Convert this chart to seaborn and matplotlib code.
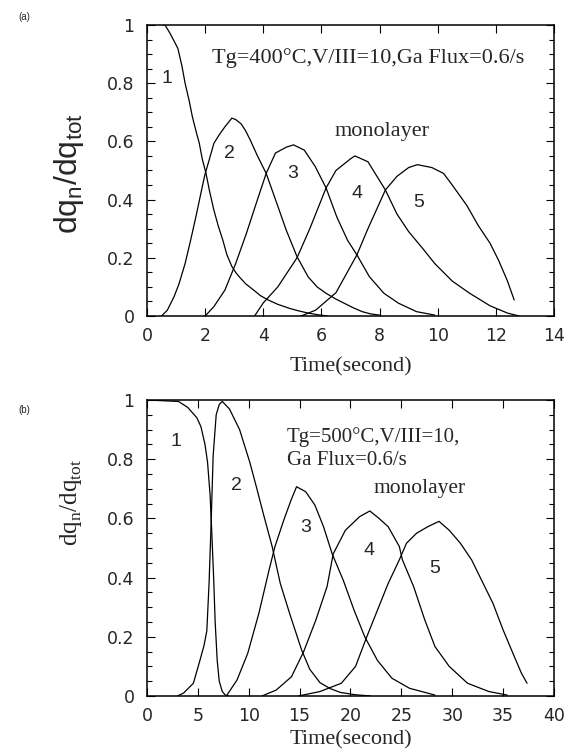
import matplotlib
matplotlib.use("Agg")
import matplotlib.pyplot as plt
import pandas as pd
import seaborn as sns
from matplotlib.ticker import MultipleLocator

# ---- panel (a): Tg = 400 C, time in seconds, dq_n/dq_tot per monolayer ----
A1_T = [0.55, 0.62, 0.8, 1.06, 1.2, 1.31, 1.45, 1.56, 1.7, 1.8, 1.9, 2.03, 2.15, 2.3, 2.45,
        2.61, 2.75, 2.92, 3.05, 3.17, 3.4, 3.67, 3.9, 4.17, 4.5, 4.91, 5.2, 5.54, 5.9, 6.2]
A1_Y = [1.0, 1.0, 0.97, 0.92, 0.86, 0.80, 0.74, 0.685, 0.63, 0.593, 0.54, 0.49, 0.43, 0.364, 0.31,
        0.26, 0.21, 0.17, 0.15, 0.135, 0.11, 0.089, 0.07, 0.055, 0.04, 0.026, 0.018, 0.01, 0.004, 0.0]
A2_T = [0.5, 0.7, 0.93, 1.1, 1.31, 1.5, 1.68, 1.85, 1.99, 2.15, 2.3, 2.5, 2.68, 2.8, 2.92, 3.05,
        3.24, 3.4, 3.55, 3.8, 4.1, 4.42, 4.79, 5.16, 5.54, 5.85, 6.16, 6.5, 6.78, 7.1, 7.4, 7.7, 8.0]
A2_Y = [0.0, 0.02, 0.066, 0.11, 0.18, 0.26, 0.34, 0.42, 0.485, 0.54, 0.593, 0.625, 0.65, 0.665, 0.68, 0.675,
        0.66, 0.635, 0.605, 0.55, 0.49, 0.40, 0.295, 0.204, 0.135, 0.10, 0.078, 0.058, 0.044, 0.028, 0.015, 0.007, 0.003]
A3_T = [2.0, 2.3, 2.68, 3.05, 3.42, 3.8, 4.1, 4.42, 4.79, 5.04, 5.41, 5.79, 6.16, 6.53, 6.9,
        7.22, 7.65, 8.15, 8.65, 9.27, 9.9]
A3_Y = [0.0, 0.032, 0.089, 0.18, 0.284, 0.40, 0.49, 0.56, 0.58, 0.588, 0.57, 0.513, 0.44, 0.34, 0.26,
        0.21, 0.135, 0.078, 0.044, 0.015, 0.003]
A4_T = [3.7, 4.0, 4.5, 5.16, 5.6, 6.16, 6.5, 7.0, 7.15, 7.6, 8.2, 8.6, 9.0, 9.5, 9.9,
        10.5, 11.1, 11.8, 12.4, 12.8]
A4_Y = [0.0, 0.045, 0.1, 0.2, 0.3, 0.44, 0.5, 0.54, 0.55, 0.53, 0.433, 0.35, 0.29, 0.23, 0.18,
        0.12, 0.078, 0.035, 0.01, 0.0]
A5_T = [5.3, 5.8, 6.5, 7.22, 7.6, 8.2, 8.6, 9.0, 9.3, 9.8, 10.2, 10.5, 11.0, 11.4, 11.8,
        12.1, 12.4, 12.63]
A5_Y = [0.0, 0.02, 0.08, 0.21, 0.3, 0.433, 0.48, 0.51, 0.52, 0.51, 0.49, 0.45, 0.38, 0.31, 0.25,
        0.19, 0.12, 0.055]

# ---- panel (b): Tg = 500 C ----
B1_T = [0.0, 3.1, 4.0, 4.9, 5.3, 5.7, 5.95, 6.2, 6.37, 6.55, 6.7, 6.9, 7.1, 7.4, 7.7, 8.0]
B1_Y = [1.0, 0.995, 0.975, 0.94, 0.91, 0.85, 0.79, 0.68, 0.55, 0.40, 0.25, 0.12, 0.05, 0.015, 0.003, 0.0]
B2_T = [3.0, 3.6, 4.56, 5.2, 5.6, 5.88, 6.1, 6.3, 6.5, 6.8, 7.1, 7.4, 8.1, 9.1, 10.1, 10.8,
        11.4, 12.3, 13.1, 14.1, 15.2, 16.0, 17.0, 18.0, 19.0, 20.5, 22.0]
B2_Y = [0.0, 0.01, 0.043, 0.12, 0.17, 0.22, 0.38, 0.58, 0.81, 0.95, 0.985, 0.995, 0.97, 0.9, 0.79, 0.70,
        0.62, 0.505, 0.38, 0.27, 0.155, 0.09, 0.045, 0.025, 0.012, 0.004, 0.0]
B3_T = [7.8, 8.85, 9.9, 11.0, 12.0, 12.57, 13.45, 14.16, 14.7, 15.6, 16.5, 17.35, 18.2, 19.3,
        20.35, 21.4, 22.65, 24.07, 25.8, 28.3]
B3_Y = [0.0, 0.054, 0.144, 0.28, 0.426, 0.504, 0.595, 0.662, 0.707, 0.69, 0.645, 0.572, 0.48, 0.39,
        0.29, 0.2, 0.12, 0.06, 0.026, 0.003]
B4_T = [11.3, 12.7, 14.2, 15.4, 16.6, 17.7, 18.3, 19.5, 20.9, 21.9, 22.8, 23.7, 24.8, 25.1,
        26.2, 27.3, 28.3, 29.7, 31.5, 33.6, 35.4]
B4_Y = [0.0, 0.02, 0.065, 0.15, 0.257, 0.37, 0.48, 0.56, 0.606, 0.625, 0.6, 0.572, 0.505, 0.46,
        0.37, 0.257, 0.167, 0.1, 0.043, 0.015, 0.003]
B5_T = [14.9, 17.0, 19.1, 20.5, 21.6, 22.65, 23.7, 24.8, 25.5, 26.5, 27.6, 28.7, 29.7, 30.8,
        31.9, 32.9, 34.0, 35.0, 36.1, 36.8, 37.35]
B5_Y = [0.0, 0.015, 0.043, 0.1, 0.2, 0.29, 0.38, 0.46, 0.516, 0.55, 0.572, 0.59, 0.56, 0.516,
        0.46, 0.39, 0.313, 0.223, 0.133, 0.077, 0.043]

LAYERS = ["1", "2", "3", "4", "5"]
Y_TICKS = [0, 0.2, 0.4, 0.6, 0.8, 1]
Y_TICK_LABELS = ["0", "0.2", "0.4", "0.6", "0.8", "1"]
A_X_TICKS = [0, 2, 4, 6, 8, 10, 12, 14]
B_X_TICKS = [0, 5, 10, 15, 20, 25, 30, 35, 40]

# curve number positions (data coords)
A_LABEL_POS = [(0.68, 0.815), (2.82, 0.56), (5.0, 0.49), (7.22, 0.42), (9.33, 0.39)]
B_LABEL_POS = [(2.8, 0.86), (8.8, 0.71), (15.6, 0.57), (21.8, 0.49), (28.3, 0.43)]

SANS = "Liberation Sans"
TICK_FONT = "DejaVu Sans"
SERIF = "Liberation Serif"


def _long_frame(curves):
    rows = []
    for layer, (ts, ys) in zip(LAYERS, curves):
        for t, y in zip(ts, ys):
            rows.append({"time": t, "frac": y, "layer": layer})
    return pd.DataFrame(rows)


def _style_axis(ax, xmax, xticks, labelpad):
    ax.set_xlim(0, xmax)
    ax.set_ylim(0, 1)
    ax.set_xticks(xticks)
    ax.set_xticklabels([str(t) for t in xticks], fontfamily=TICK_FONT, fontsize=12.5)
    ax.set_yticks(Y_TICKS)
    ax.set_yticklabels(Y_TICK_LABELS, fontfamily=TICK_FONT, fontsize=12.5)
    ax.yaxis.set_minor_locator(MultipleLocator(0.05))
    ax.tick_params(which="both", direction="in", top=True, right=True, width=0.8, color="black")
    ax.tick_params(which="major", length=6)
    ax.tick_params(which="minor", length=3.5)
    ax.tick_params(axis="y", which="major", pad=9)
    ax.tick_params(axis="x", which="major", pad=8)
    for spine in ax.spines.values():
        spine.set_linewidth(1.1)
        spine.set_color("black")
    ax.set_xlabel("Time(second)", fontfamily=SERIF, fontsize=16, labelpad=labelpad)


def _draw_panel(ax, curves, label_pos):
    df = _long_frame(curves)
    sns.lineplot(data=df, x="time", y="frac", units="layer", estimator=None, sort=False,
                 color="black", lw=0.9, ax=ax, legend=False)
    for name, (x, y) in zip(LAYERS, label_pos):
        ax.text(x, y, name, fontfamily=SANS, fontsize=14, ha="center", va="center")


def main():
    sns.set_style("ticks")
    plt.rcParams["font.family"] = [SANS, "DejaVu Sans"]

    fig = plt.figure(figsize=(5.66, 7.52), dpi=100)
    ax_a = fig.add_axes([0.2597, 0.5798, 0.7191, 0.387])
    ax_b = fig.add_axes([0.2597, 0.0745, 0.7191, 0.3936])

    _draw_panel(ax_a, [(A1_T, A1_Y), (A2_T, A2_Y), (A3_T, A3_Y), (A4_T, A4_Y), (A5_T, A5_Y)],
                A_LABEL_POS)
    _style_axis(ax_a, 14, A_X_TICKS, 9)
    ax_a.set_ylabel(r"dq$_\mathregular{n}$/dq$_\mathregular{tot}$", fontfamily=SANS, fontsize=23)
    ax_a.yaxis.set_label_coords(-0.15, 0.49)
    ax_a.text(2.24, 0.885, "Tg=400\u00b0C,V/III=10,Ga Flux=0.6/s", fontfamily=SERIF,
              fontsize=16, va="center", ha="left")
    ax_a.text(6.45, 0.633, "monolayer", fontfamily=SERIF, fontsize=16, va="center", ha="left")

    _draw_panel(ax_b, [(B1_T, B1_Y), (B2_T, B2_Y), (B3_T, B3_Y), (B4_T, B4_Y), (B5_T, B5_Y)],
                B_LABEL_POS)
    _style_axis(ax_b, 40, B_X_TICKS, 4)
    ax_b.set_ylabel(r"dq$_\mathregular{n}$/dq$_\mathregular{tot}$", fontfamily=SERIF, fontsize=18)
    ax_b.yaxis.set_label_coords(-0.155, 0.655)
    ax_b.text(13.7, 0.875, "Tg=500\u00b0C,V/III=10,", fontfamily=SERIF, fontsize=15,
              va="center", ha="left")
    ax_b.text(13.8, 0.795, "Ga Flux=0.6/s", fontfamily=SERIF, fontsize=15, va="center", ha="left")
    ax_b.text(22.3, 0.70, "monolayer", fontfamily=SERIF, fontsize=15.5, va="center", ha="left")

    fig.text(18 / 566, 1 - 17 / 752, "(a)", fontsize=7, va="center", ha="left")
    fig.text(18 / 566, 1 - 410 / 752, "(b)", fontsize=7, va="center", ha="left")

    fig.savefig("out.png", dpi=100)
    plt.close(fig)


if __name__ == "__main__":
    main()
